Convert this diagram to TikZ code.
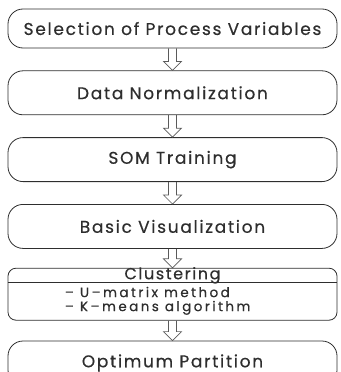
\documentclass[tikz,border=0pt]{standalone}
\usepackage{fontspec}
\setmainfont{Poppins}[LetterSpace=10, FakeBold=0.5]
\usetikzlibrary{positioning, calc}
\definecolor{flowLine} {HTML}{2E2E2E}
\definecolor{flowArrow}{HTML}{5A5A5A}
\tikzset{
  stepbox/.style   = {rectangle, rounded corners=15pt, draw=flowLine,
                      line width=0.8pt, minimum width=329pt,
                      minimum height=44pt, inner sep=0pt, text=flowLine,
                      font=\fontsize{17}{18}\selectfont},
  clustbox/.style  = {stepbox, rounded corners=8pt, minimum height=52pt},
  subtext/.style   = {inner sep=0pt, align=left, text=flowLine,
                      font=\fontsize{13.5}{14}\selectfont\addfontfeature{LetterSpace=18}},
  hollowarrow/.style = {draw=flowArrow, line width=0.7pt,
    to path={($(\tikztostart)+(-4pt,0)$) -- ($(\tikztotarget)+(-4pt,9pt)$)
             -- ($(\tikztotarget)+(-9pt,9pt)$) -- (\tikztotarget)
             -- ($(\tikztotarget)+(9pt,9pt)$) -- ($(\tikztotarget)+(4pt,9pt)$)
             -- ($(\tikztostart)+(4pt,0)$)}},
}
\begin{document}
\begin{tikzpicture}[node distance=22pt]
  \useasboundingbox (0,0) rectangle (340pt,-372pt);
  \clip (0,0) rectangle (340pt,-372pt);

  % ---- process steps ----
  \node[stepbox, minimum height=39pt] (select) at (172.5pt,-28.5pt)
        {Selection of Process Variables};
  \node[stepbox, below=of select] (norm)  {Data Normalization};
  \node[stepbox, below=of norm]   (train) {SOM Training};
  \node[stepbox, below=of train]  (visu)  {Basic Visualization};
  \node[clustbox, below=19pt of visu] (clust) {};
  \node[stepbox, below=20pt of clust] (optim) {Optimum Partition};

  % ---- clustering box contents ----
  \draw[flowLine, line width=0.8pt]
    ($(clust.north west)+(0,-15pt)$) -- ($(clust.north east)+(0,-15pt)$);
  \node[inner sep=0pt, text=flowLine, font=\fontsize{16}{16}\selectfont]
    (clusttitle) at ($(clust.north)+(0,-7.5pt)$) {Clustering};
  \node[subtext, anchor=west] (clustlist) at ($(clust.north west)+(57pt,-33pt)$)
    {– U–matrix method\\ – K–means algorithm};

  % ---- arrows ----
  \draw[hollowarrow] (select.south) to (norm.north);
  \draw[hollowarrow] (norm.south)   to (train.north);
  \draw[hollowarrow] (train.south)  to (visu.north);
  \draw[hollowarrow] (visu.south)   to (clust.north);
  \draw[hollowarrow] (clust.south)  to (optim.north);
\end{tikzpicture}
\end{document}
